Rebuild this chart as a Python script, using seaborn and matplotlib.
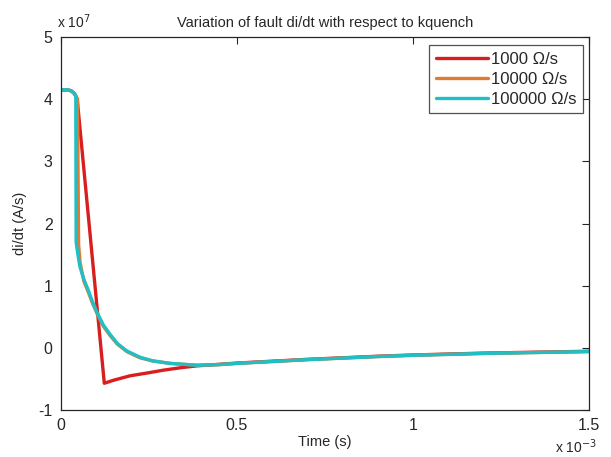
import numpy as np
import pandas as pd
import matplotlib
matplotlib.use("Agg")
import matplotlib.pyplot as plt
import seaborn as sns

# Time in units of 1e-3 s, di/dt in units of 1e7 A/s
t_1000 = [0, 0.02, 0.03, 0.038, 0.042, 0.046, 0.123, 0.15, 0.196, 0.25, 0.29, 0.34, 0.386,
          0.45, 0.5, 0.6, 0.7, 0.8, 0.9, 1.0, 1.1, 1.2, 1.3, 1.4, 1.5]
v_1000 = [4.15, 4.15, 4.13, 4.09, 4.05, 4.0, -0.57, -0.52, -0.45, -0.40, -0.36, -0.32, -0.29,
          -0.265, -0.245, -0.215, -0.185, -0.16, -0.135, -0.115, -0.10, -0.085, -0.075, -0.065, -0.055]

t_10000 = [0, 0.02, 0.03, 0.038, 0.042, 0.047, 0.049, 0.050, 0.054, 0.065, 0.078, 0.09, 0.104,
           0.12, 0.139, 0.16, 0.187, 0.224, 0.26, 0.31, 0.386, 0.45, 0.5, 0.6, 0.7, 0.8, 0.9,
           1.0, 1.1, 1.2, 1.3, 1.4, 1.5]
v_10000 = [4.15, 4.15, 4.13, 4.09, 4.05, 4.0, 2.4, 1.66, 1.38, 1.07, 0.89, 0.71, 0.53,
           0.35, 0.20, 0.06, -0.06, -0.16, -0.21, -0.25, -0.28, -0.27, -0.25, -0.22, -0.19, -0.165,
           -0.14, -0.12, -0.105, -0.09, -0.08, -0.07, -0.06]

t_100000 = [0, 0.02, 0.03, 0.038, 0.042, 0.043, 0.048, 0.054, 0.065, 0.078, 0.09, 0.104,
            0.12, 0.139, 0.16, 0.187, 0.224, 0.26, 0.31, 0.386, 0.45, 0.5, 0.6, 0.7, 0.8, 0.9,
            1.0, 1.1, 1.2, 1.3, 1.4, 1.5]
v_100000 = [4.15, 4.15, 4.13, 4.09, 4.05, 1.70, 1.50, 1.30, 1.10, 0.92, 0.73, 0.55,
            0.37, 0.22, 0.07, -0.05, -0.15, -0.21, -0.25, -0.28, -0.27, -0.25, -0.22, -0.19, -0.165,
            -0.14, -0.12, -0.105, -0.09, -0.08, -0.07, -0.06]

labels = ["1000 \u03a9/s", "10000 \u03a9/s", "100000 \u03a9/s"]
colors = ["#d81e1e", "#e07a35", "#1fbfc4"]

df = pd.concat([
    pd.DataFrame({"t": t_1000, "v": v_1000, "series": labels[0]}),
    pd.DataFrame({"t": t_10000, "v": v_10000, "series": labels[1]}),
    pd.DataFrame({"t": t_100000, "v": v_100000, "series": labels[2]}),
], ignore_index=True)

sns.set_style("white")
plt.rcParams["font.family"] = ["Liberation Sans", "DejaVu Sans"]

fig = plt.figure(figsize=(6.11, 4.57), dpi=100)
ax = fig.add_axes([61/611, (457-410)/457, (589-61)/611, (410-37)/457])

sns.lineplot(data=df, x="t", y="v", hue="series", hue_order=labels,
             palette=dict(zip(labels, colors)), estimator=None, sort=False,
             linewidth=2.4, ax=ax)

ax.set_xlim(0, 1.5)
ax.set_ylim(-1, 5)
ax.set_xticks([0, 0.5, 1, 1.5])
ax.set_xticklabels(["0", "0.5", "1", "1.5"])
ax.set_yticks([-1, 0, 1, 2, 3, 4, 5])
ax.set_yticklabels(["-1", "0", "1", "2", "3", "4", "5"])
ax.tick_params(direction="in", length=5, width=0.8, top=True, right=True,
               labelsize=11.5, colors="#262626", pad=6)
for s in ax.spines.values():
    s.set_color("#262626")
    s.set_linewidth(0.9)

ax.set_xlabel("Time (s)", fontsize=10.5, labelpad=1)
ax.set_ylabel("di/dt (A/s)", fontsize=10.5, labelpad=8)
ax.set_title("Variation of fault di/dt with respect to kquench", fontsize=10.5, pad=7)

fig.text(57/611, 1 - 22/457, "x 10$^{7}$", fontsize=10, ha="left", va="center", color="#262626")
fig.text(555/611, 1 - 447/457, "x 10$^{-3}$", fontsize=10, ha="left", va="center", color="#262626")

leg = ax.legend(loc="upper right", bbox_to_anchor=(583/611, 1 - 45/457),
                bbox_transform=fig.transFigure, fontsize=12, frameon=True, fancybox=False,
                edgecolor="#262626", borderaxespad=0, handlelength=3.1,
                handletextpad=0.2, labelspacing=0.3, borderpad=0.4)
leg.get_frame().set_linewidth(0.9)
leg.set_title(None)

fig.savefig("out.png", dpi=100)
